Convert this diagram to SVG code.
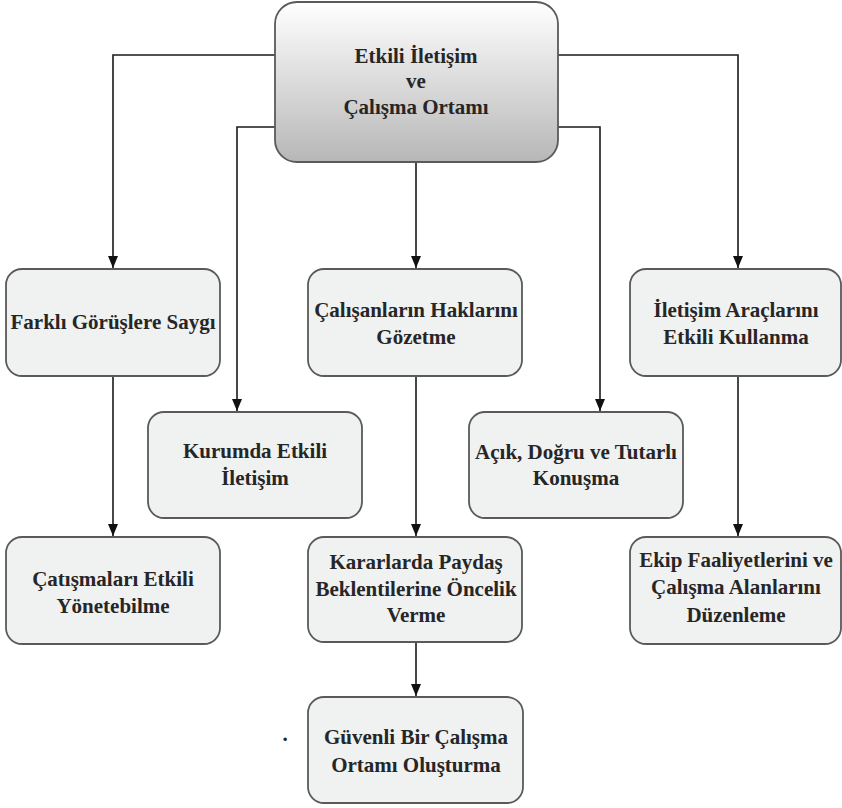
<svg xmlns="http://www.w3.org/2000/svg" width="842" height="808" viewBox="0 0 842 808">
  <style>
    .box { fill: #f0f1f1; stroke: #5a5a5a; stroke-width: 1.8; }
    .wire { fill: none; stroke: #1a1a1a; stroke-width: 1.6; }
    text { font-family: "Liberation Serif", "Times New Roman", serif; font-weight: bold; font-size: 21px; fill: #262626; text-anchor: middle; }
  </style>
  <defs>
    <linearGradient id="topFill" x1="0" y1="0" x2="0" y2="1">
      <stop offset="0" stop-color="#ffffff"/>
      <stop offset="1" stop-color="#b7b7b7"/>
    </linearGradient>
    <marker id="head" viewBox="0 0 12 10" refX="12" refY="5" markerWidth="12" markerHeight="10" markerUnits="userSpaceOnUse" orient="auto">
      <path d="M0,0 L12,5 L0,10 Z" fill="#111"/>
    </marker>
  </defs>

  <rect width="842" height="808" fill="#ffffff"/>

  <!-- connectors -->
  <g id="connectors">
    <path class="wire" d="M275,55 H113 V268" marker-end="url(#head)"/>
    <path class="wire" d="M275,127 H237 V411" marker-end="url(#head)"/>
    <path class="wire" d="M416,162 V268" marker-end="url(#head)"/>
    <path class="wire" d="M558,127 H600 V411" marker-end="url(#head)"/>
    <path class="wire" d="M558,55 H738 V268" marker-end="url(#head)"/>
    <path class="wire" d="M113,376 V536" marker-end="url(#head)"/>
    <path class="wire" d="M416,376 V536" marker-end="url(#head)"/>
    <path class="wire" d="M416,642 V696" marker-end="url(#head)"/>
    <path class="wire" d="M738,376 V536" marker-end="url(#head)"/>
  </g>

  <!-- root -->
  <g id="root">
    <rect x="275" y="2" width="283" height="160" rx="22" fill="url(#topFill)" stroke="#5a5a5a" stroke-width="1.8"/>
    <text x="416" y="63">Etkili İletişim</text>
    <text x="416" y="88">ve</text>
    <text x="416" y="114">Çalışma Ortamı</text>
  </g>

  <g id="n-farkli">
    <rect class="box" x="6" y="269" width="214" height="107" rx="16"/>
    <text x="113" y="329">Farklı Görüşlere Saygı</text>
  </g>

  <g id="n-calisanlar">
    <rect class="box" x="308" y="269" width="214" height="107" rx="16"/>
    <text x="416" y="317">Çalışanların Haklarını</text>
    <text x="416" y="344">Gözetme</text>
  </g>

  <g id="n-araclar">
    <rect class="box" x="630" y="269" width="211" height="107" rx="16"/>
    <text x="736" y="317">İletişim Araçlarını</text>
    <text x="736" y="344">Etkili Kullanma</text>
  </g>

  <g id="n-kurumda">
    <rect class="box" x="148" y="412" width="214" height="106" rx="16"/>
    <text x="255" y="458">Kurumda Etkili</text>
    <text x="255" y="485">İletişim</text>
  </g>

  <g id="n-acik">
    <rect class="box" x="469" y="412" width="214" height="106" rx="16"/>
    <text x="576" y="459">Açık, Doğru ve Tutarlı</text>
    <text x="576" y="485">Konuşma</text>
  </g>

  <g id="n-catisma">
    <rect class="box" x="6" y="537" width="214" height="107" rx="16"/>
    <text x="113" y="586">Çatışmaları Etkili</text>
    <text x="113" y="613">Yönetebilme</text>
  </g>

  <g id="n-kararlar">
    <rect class="box" x="308" y="537" width="214" height="105" rx="16"/>
    <text x="416" y="569">Kararlarda Paydaş</text>
    <text x="416" y="596">Beklentilerine Öncelik</text>
    <text x="416" y="622">Verme</text>
  </g>

  <g id="n-ekip">
    <rect class="box" x="630" y="537" width="211" height="107" rx="16"/>
    <text x="736" y="567">Ekip Faaliyetlerini ve</text>
    <text x="736" y="594">Çalışma Alanlarını</text>
    <text x="736" y="622">Düzenleme</text>
  </g>

  <g id="n-guvenli">
    <rect class="box" x="308" y="697" width="215" height="106" rx="16"/>
    <text x="416" y="744">Güvenli Bir Çalışma</text>
    <text x="416" y="772">Ortamı Oluşturma</text>
  </g>

  <text x="285" y="741">.</text>
</svg>
